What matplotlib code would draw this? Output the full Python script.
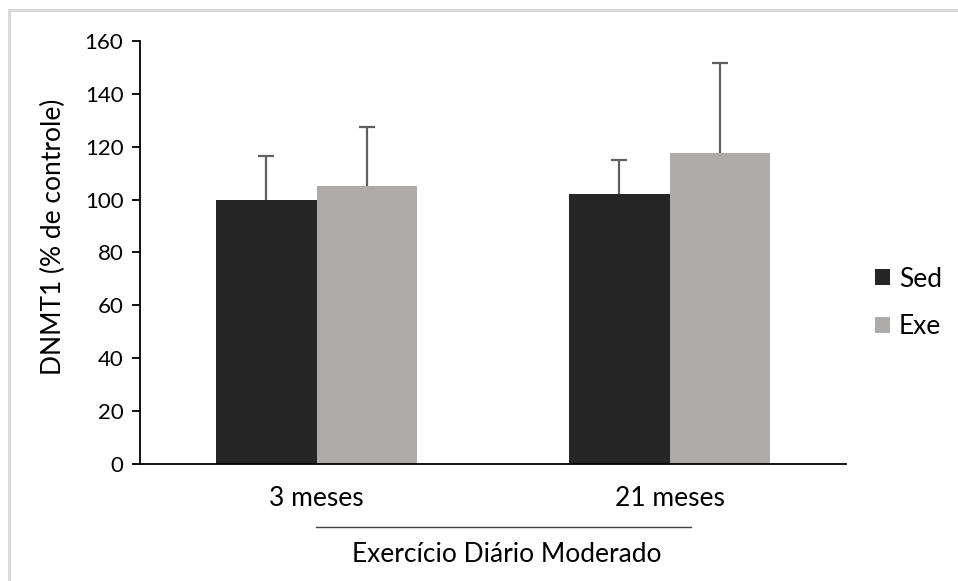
import matplotlib.pyplot as plt
import numpy as np
from matplotlib.patches import Rectangle
from matplotlib.lines import Line2D

plt.rcParams['font.family'] = ['Lato', 'DejaVu Sans']

### data
groups = ['3 meses', '21 meses']
series = ['Sed', 'Exe']
sed_vals = [100, 102]
exe_vals = [105, 117.5]
sed_err = [16.5, 13]
exe_err = [22.5, 34]
colors = ['#262626', '#aeaaaa']
err_color = '#606060'
ylabel = 'DNMT1 (% de controle)'
xlabel = 'Exercício Diário Moderado'

W, H = 958, 581
FS = 19      # words
TFS = 16     # tick numbers
fig = plt.figure(figsize=(W / 100, H / 100), dpi=100)
ax = fig.add_axes([140 / W, 1 - 464 / H, (846 - 140) / W, (464 - 41) / H])

x = np.arange(len(groups))
bw = 0.285
for i, (vals, errs) in enumerate([(sed_vals, sed_err), (exe_vals, exe_err)]):
    xs = x + (i - 0.5) * bw
    ax.bar(xs, vals, width=bw, color=colors[i], label=series[i], zorder=2)
    eb = ax.errorbar(xs, vals, yerr=[np.zeros(len(errs)), errs], fmt='none',
                     ecolor=err_color, elinewidth=1.6, capsize=6, capthick=1.6, zorder=3)
    eb[1][0].set_visible(False)  # no cap at the bar top

ax.set_xlim(-0.5, 1.5)
ax.set_ylim(0, 160)
ax.set_yticks(np.arange(0, 161, 20))
ax.tick_params(axis='y', direction='out', length=6, width=1.3, labelsize=TFS, pad=6, colors='black')
ax.tick_params(axis='x', length=0, labelsize=FS, pad=16)
ax.set_xticks(x)
ax.set_xticklabels(groups)
for s in ['top', 'right']:
    ax.spines[s].set_visible(False)
for s in ['left', 'bottom']:
    ax.spines[s].set_linewidth(1.3)
ax.set_ylabel(ylabel, fontsize=FS)
ax.yaxis.set_label_coords((53 - 140) / 706, (464 - 237) / 423)
ax.yaxis.label.set_va('center')

# second-level category line and title
fig.add_artist(Line2D([316 / W, 691 / W], [1 - 526.5 / H, 1 - 526.5 / H], color='#404040', lw=1.0))
fig.text(507 / W, 1 - 555 / H, xlabel, ha='center', va='center', fontsize=FS)

leg = ax.legend(loc='center left', bbox_to_anchor=(875 / W, 1 - 303 / H), bbox_transform=fig.transFigure,
                frameon=False, fontsize=FS, handlelength=0.55, handleheight=0.55, handletextpad=0.35,
                labelspacing=0.85, borderpad=0, borderaxespad=0)

# light frame around the chart area (cut off at right and bottom)
fig.add_artist(Rectangle((9 / W, -0.1), 1.2, 1.1 - 10 / H, transform=fig.transFigure,
                         fill=False, edgecolor='#d9d9d9', lw=2.2))

fig.savefig('out.png', dpi=100)
